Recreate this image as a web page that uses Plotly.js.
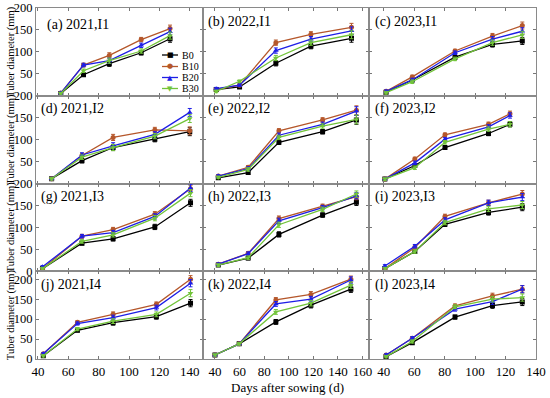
<!DOCTYPE html>
<html><head><meta charset="utf-8">
<script src="https://cdn.plot.ly/plotly-3.0.1.min.js"></script>
<style>html,body{margin:0;padding:0;background:#fff}#chart{width:550px;height:398px}</style>
</head><body><div id="chart"></div>
<script>
// Panel labels, (a)..(l), row-major
const panelLabels = ["(a) 2021,I1","(b) 2022,I1","(c) 2023,I1",
                     "(d) 2021,I2","(e) 2022,I2","(f) 2023,I2",
                     "(g) 2021,I3","(h) 2022,I3","(i) 2023,I3",
                     "(j) 2021,I4","(k) 2022,I4","(l) 2023,I4"];
const seriesNames = ["B0","B10","B20","B30"];
// Days after sowing per panel
const days = [
  [55,70,87,108,127],[41,60,89.5,118,151],[41.5,58.7,86.8,111.4,131],
  [49,69,89.5,117,140],[42.7,67,92,127.5,155],[40.7,60.4,80.2,108.8,122.9],
  [43,69,89.5,117,140.5],[42.7,67,92,127.5,155],[40.7,60.4,80.2,108.8,131],
  [43.5,66,89.5,118,140.5],[40,59.7,89.5,118,150.5],[41.5,58.7,86.8,111.4,131]
];
// Tuber diameter (mm) per panel
const B0 = [
  [5,48,73,98,130],[14,20,74,113,131],[8,36,88,117,125],
  [11,52,82,101,118],[13,25,94,118,145],[10,41,82,114,135],
  [6,64,74,101,156],[14,30,84,128,157],[6,45,107,134,146],
  [8,72,91,106,140],[10,38,93,135,175],[6,41,105,134,143]
];
const B10 = [
  [6,70,92,128,153],[14,24,121,140,156],[10,43,102,136,160],
  [11,64,105,122,120],[17,37,120,145,167],[10,56,111,135,159],
  [6,80,95,130,188],[16,41,120,148,170],[6,54,125,156,176],
  [13,92,112,137,200],[10,38,148,162,200],[10,52,133,158,175]
];
const B20 = [
  [6,70,80,115,146],[16,24,103,129,148],[10,36,98,129,147],
  [11,65,86,112,162],[17,34,110,135,165],[10,47,101,129,155],
  [10,80,88,125,190],[16,40,115,145,172],[12,57,117,156,169],
  [13,89,104,129,190],[10,38,138,150,198],[10,52,125,144,175]
];
const B30 = [
  [5,57,80,102,137],[10,33,86,121,139],[7,32,84,121,139],
  [11,60,82,108,148],[14,32,105,131,146],[10,36,94,124,135],
  [6,68,83,121,178],[14,31,106,141,176],[6,45,111,142,151],
  [8,75,95,112,165],[10,38,118,140,185],[6,44,131,150,154]
];
// Error bar half-widths (mm) per panel
const errs = [
  [3,4,6,5,8],[3,3,6,6,9],[3,4,4,6,8],
  [3,5,7,6,9],[3,4,5,5,10],[3,4,4,5,6],
  [3,4,5,6,8],[3,4,6,5,7],[3,4,5,6,8],
  [3,4,6,6,9],[3,3,6,7,8],[3,4,5,7,9]
];
const xTickVals = [[40,60,80,100,120,140],[40,60,80,100,120,140,160],[40,60,80,100,120,140]];
const yTickRows = [[50,100,150,200],[50,100,150,200],[0,50,100,150,200],[0,50,100,150,200]];

const colors = ["#000000","#B5572B","#1E1EE6","#72C43A"];
const symbols = ["square","circle","triangle-up","triangle-down"];
const legendGlyphs = ["\u25A0","\u25CF","\u25B2","\u25BC"];
const allSeries = [B0,B10,B20,B30];
const xRanges = [[38.7,148.5],[30,165.5],[30.5,140]];
const yRanges = [[0,200],[0,200],[0,200],[0,220]];
const FONT = "Liberation Serif, Times New Roman, serif";

const W=550,H=398,ML=36,MR=14,MT=8,MB=39;
const PW=W-ML-MR, PH=H-MT-MB;
const px2x = v => (v-ML)/PW;
const py2y = v => (H-MB-v)/PH;

const traces = [];
const layout = {
  width:W, height:H,
  margin:{l:ML,r:MR,t:MT,b:MB},
  paper_bgcolor:"#fff", plot_bgcolor:"#fff",
  font:{family:FONT,size:13,color:"#000"},
  showlegend:false,
  annotations:[], shapes:[]
};
for(let p=0;p<12;p++){
  const r=Math.floor(p/3), c=p%3, n=p+1;
  const xa = n===1?"x":"x"+n, ya = n===1?"y":"y"+n;
  for(let s=0;s<4;s++){
    traces.push({
      x:days[p], y:allSeries[s][p], xaxis:xa, yaxis:ya,
      type:"scatter", mode:"lines+markers", name:seriesNames[s],
      line:{color:colors[s],width:1.3},
      marker:{color:colors[s],symbol:symbols[s],size:5},
      error_y:{type:"data",array:errs[p],color:colors[s],thickness:1,width:2}
    });
  }
  const xk = n===1?"xaxis":"xaxis"+n, yk = n===1?"yaxis":"yaxis"+n;
  layout[xk] = {domain:[c/3,(c+1)/3], anchor:ya, range:xRanges[c],
    tickvals:xTickVals[c], showticklabels:r===3, ticks:"inside", ticklen:3,
    tickcolor:"#777", showline:true, linecolor:"#8a8a8a", linewidth:1, mirror:"ticks",
    showgrid:false, zeroline:false, tickfont:{size:13,family:FONT}};
  layout[yk] = {domain:[1-(r+1)/4,1-r/4], anchor:xa, range:yRanges[r],
    tickvals:yTickRows[r], showticklabels:c===0, ticks:"inside", ticklen:3,
    tickcolor:"#777", showline:true, linecolor:"#8a8a8a", linewidth:1, mirror:"ticks",
    showgrid:false, zeroline:false, tickfont:{size:12.5,family:FONT}};
  const isA = p===0;
  layout.annotations.push({text:panelLabels[p], xref:xa+" domain", yref:ya+" domain",
    x: isA?0.055:0.02, y: isA?0.92:0.96, xanchor:"left", yanchor:"top", showarrow:false,
    font:{size:14,family:FONT}});
  if(c===0){
    // row y-axis title
    const yc = 1-(r+0.5)/4;
    layout.annotations.push({text:"Tuber diameter (mm)", xref:"paper", yref:"paper",
      x:px2x(11), y:yc, xanchor:"center", yanchor:"middle", textangle:-90, showarrow:false,
      font:{size:10.5,family:FONT}});
  }
}
// compact legend inside panel (a)
const legY = [55,66.5,77.5,88.5];
for(let s=0;s<4;s++){
  layout.shapes.push({type:"line", xref:"paper", yref:"paper",
    x0:px2x(162), x1:px2x(178), y0:py2y(legY[s]), y1:py2y(legY[s]),
    line:{color:colors[s],width:1.3}});
  layout.annotations.push({text:legendGlyphs[s], xref:"paper", yref:"paper",
    x:px2x(170), y:py2y(legY[s]), xanchor:"center", yanchor:"middle", showarrow:false,
    font:{size:7,family:"DejaVu Sans",color:colors[s]}});
  layout.annotations.push({text:seriesNames[s], xref:"paper", yref:"paper",
    x:px2x(180), y:py2y(legY[s]), xanchor:"left", yanchor:"middle", showarrow:false,
    font:{size:10,family:FONT}});
}
layout.annotations.push({text:"Days after sowing (d)", xref:"paper", yref:"paper",
  x:0.502, y:py2y(387), xanchor:"center", yanchor:"middle", showarrow:false,
  font:{size:13,family:FONT}});
Plotly.newPlot("chart", traces, layout, {displayModeBar:false, staticPlot:true});
</script></body></html>
